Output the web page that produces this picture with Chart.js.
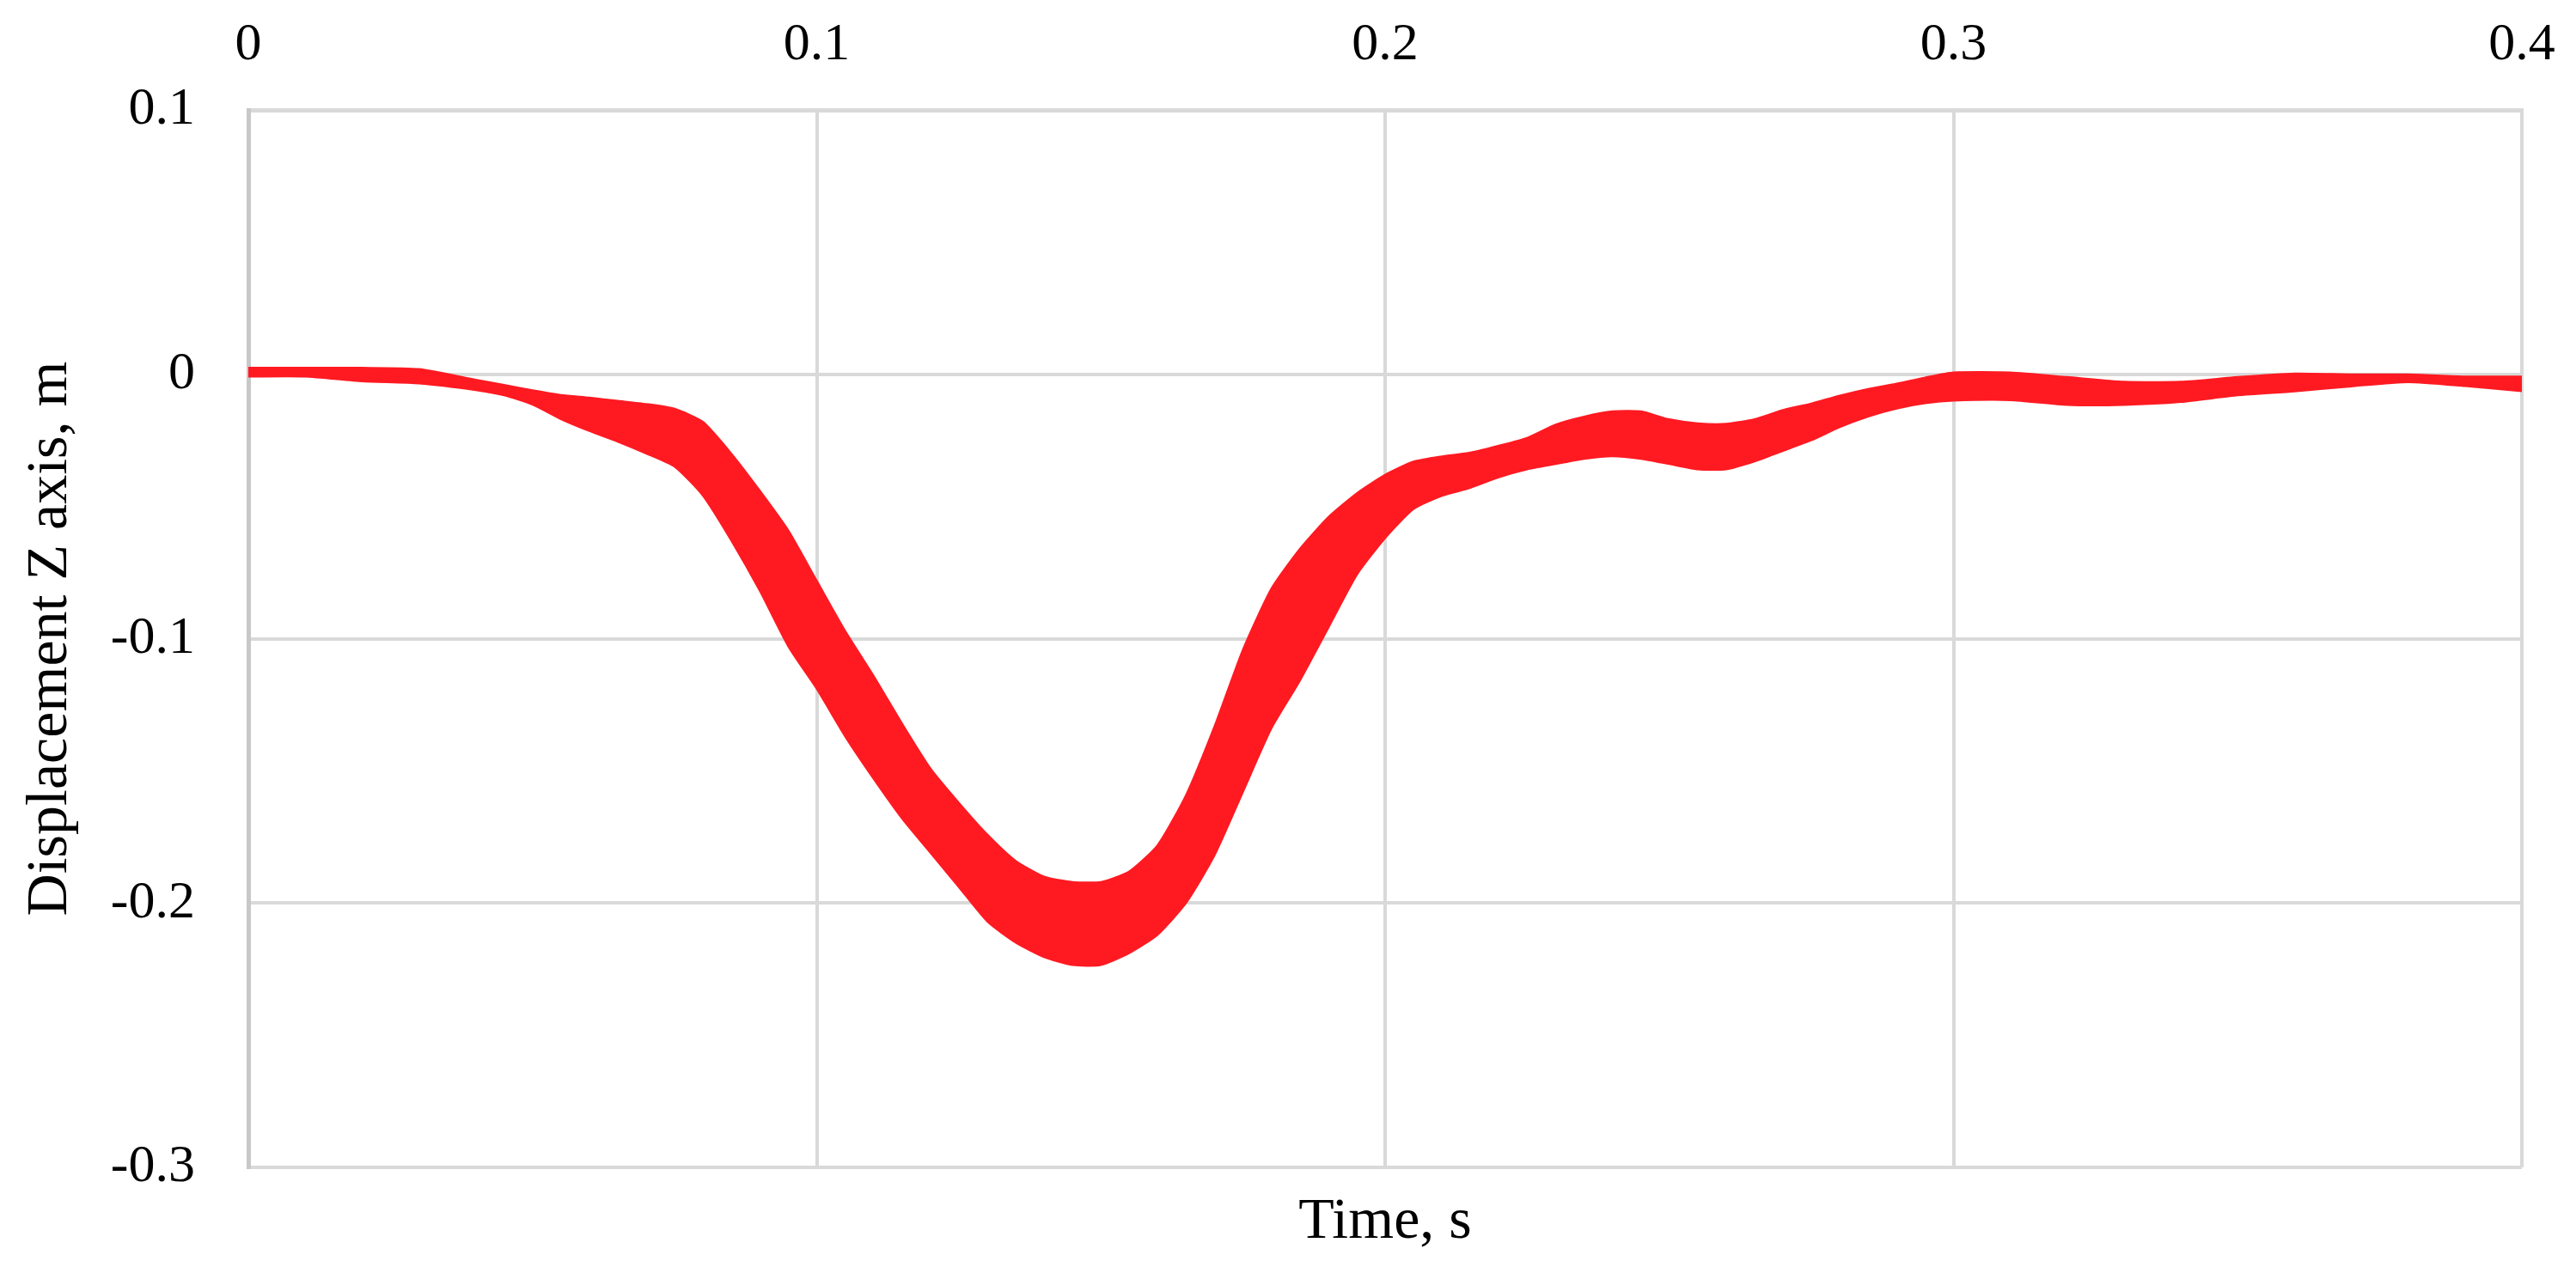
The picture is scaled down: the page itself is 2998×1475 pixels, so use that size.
<!DOCTYPE html>
<html>
<head>
<meta charset="utf-8">
<script src="https://cdn.jsdelivr.net/npm/chart.js@4.4.1/dist/chart.umd.min.js"></script>
<style>
	html, body { margin: 0; padding: 0; background: #ffffff; }
	#wrap { width: 2998px; height: 1475px; position: relative; }
</style>
</head>
<body>
<div id="wrap"><canvas id="chart"></canvas></div>
<script>
// time axis, s
const timeS = [0, 0.01, 0.02, 0.03, 0.04, 0.045, 0.05, 0.055, 0.06, 0.065, 0.07, 0.075, 0.08, 0.085, 0.09, 0.095,
	0.1, 0.105, 0.11, 0.115, 0.12, 0.125, 0.13, 0.135, 0.14, 0.145, 0.15, 0.155, 0.16, 0.165, 0.17, 0.175,
	0.18, 0.185, 0.19, 0.195, 0.2, 0.205, 0.21, 0.215, 0.22, 0.225, 0.23, 0.235, 0.24, 0.245, 0.25, 0.255,
	0.26, 0.265, 0.27, 0.275, 0.28, 0.285, 0.29, 0.295, 0.3, 0.31, 0.32, 0.33, 0.34, 0.35, 0.36, 0.37,
	0.38, 0.39, 0.4]

// upper edge of the displacement band, m
const upperZ = [0.0025, 0.0025, 0.0025, 0.002, -0.002, -0.004, -0.006, -0.0078, -0.0088, -0.01, -0.0112, -0.013, -0.018, -0.03, -0.044, -0.059,
	-0.078, -0.097, -0.114, -0.132, -0.149, -0.162, -0.174, -0.184, -0.19, -0.192, -0.192, -0.188, -0.178, -0.159, -0.133, -0.104,
	-0.081, -0.066, -0.054, -0.045, -0.038, -0.033, -0.031, -0.0296, -0.027, -0.024, -0.019, -0.016, -0.014, -0.014, -0.017, -0.0185,
	-0.0187, -0.017, -0.0135, -0.011, -0.008, -0.0055, -0.0035, -0.0012, 0.0007, 0.0007, -0.001, -0.0028, -0.0028, -0.001, 0.0003, 0,
	0, -0.0008, -0.0008]

// lower edge of the displacement band, m
const lowerZ = [-0.0009, -0.0009, -0.0027, -0.0035, -0.006, -0.008, -0.0115, -0.017, -0.0215, -0.0255, -0.03, -0.035, -0.046, -0.063, -0.082, -0.103,
	-0.119, -0.137, -0.153, -0.168, -0.181, -0.194, -0.207, -0.215, -0.2205, -0.2235, -0.2235, -0.219, -0.212, -0.2, -0.182, -0.158,
	-0.134, -0.116, -0.096, -0.076, -0.062, -0.051, -0.046, -0.043, -0.039, -0.036, -0.034, -0.032, -0.031, -0.032, -0.034, -0.036,
	-0.036, -0.033, -0.029, -0.025, -0.02, -0.016, -0.013, -0.011, -0.01, -0.0098, -0.0116, -0.0116, -0.0105, -0.008, -0.0065, -0.0046,
	-0.003, -0.0045, -0.0064]

const xTickValues = [0, 0.1, 0.2, 0.3, 0.4]
const yTickValues = [-0.3, -0.2, -0.1, 0, 0.1]

const bandRed = '#ff1a22'
const gridGrey = '#d9d9d9'
const fontFamily = '"Liberation Serif", "Times New Roman", serif'

function toPoints(ys) {
	return timeS.map((t, i) => ({ x: t, y: ys[i] }))
}

function tickLabel(v) {
	return String(Number(v.toFixed(1)))
}

const ctx = document.getElementById('chart')
const chart = new Chart(ctx, {
	type: 'line',
	data: {
		datasets: [{
			label: 'lower',
			data: toPoints(lowerZ),
			borderColor: bandRed,
			borderWidth: 2,
			backgroundColor: bandRed,
			pointRadius: 0,
			tension: 0.2,
			fill: false
		}, {
			label: 'upper',
			data: toPoints(upperZ),
			borderColor: bandRed,
			borderWidth: 2,
			backgroundColor: bandRed,
			pointRadius: 0,
			tension: 0.2,
			fill: '-1'
		}]
	},
	options: {
		responsive: true,
		maintainAspectRatio: false,
		animation: false,
		devicePixelRatio: 1,
		layout: {
			padding: { left: 0, right: 63, top: 0, bottom: 0 }
		},
		plugins: {
			legend: { display: false },
			tooltip: { enabled: false }
		},
		scales: {
			x: {
				type: 'linear',
				position: 'top',
				min: 0,
				max: 0.4,
				afterBuildTicks: s => { s.ticks = xTickValues.map(v => ({ value: v })) },
				afterFit: s => { s.height = 128; s.paddingLeft = 0; s.paddingRight = 0 },
				grid: { color: gridGrey, lineWidth: 4, drawTicks: false },
				border: { color: gridGrey, width: 5 },
				ticks: {
					padding: 38,
					color: '#000000',
					maxRotation: 0,
					font: { family: fontFamily, size: 62 },
					callback: v => tickLabel(v)
				}
			},
			x2: {
				type: 'linear',
				position: 'bottom',
				min: 0,
				max: 0.4,
				afterFit: s => { s.height = 116; s.paddingLeft = 0; s.paddingRight = 0 },
				grid: { display: false },
				border: { display: false },
				ticks: { display: false },
				title: {
					display: true,
					text: 'Time, s',
					color: '#000000',
					padding: { top: 0, bottom: 11 },
					font: { family: fontFamily, size: 68 }
				}
			},
			y: {
				type: 'linear',
				position: 'left',
				min: -0.3,
				max: 0.1,
				afterBuildTicks: s => { s.ticks = yTickValues.map(v => ({ value: v })) },
				afterFit: s => { s.width = 289 },
				grid: { color: gridGrey, lineWidth: 4, drawTicks: false },
				border: { color: '#c8c8c8', width: 5 },
				ticks: {
					padding: 62,
					color: '#000000',
					font: { family: fontFamily, size: 62 },
					callback: v => tickLabel(v)
				},
				title: {
					display: true,
					text: 'Displacement Z axis, m',
					color: '#000000',
					padding: { top: 18, bottom: 0 },
					font: { family: fontFamily, size: 68 }
				}
			}
		}
	}
})
</script>
</body>
</html>
